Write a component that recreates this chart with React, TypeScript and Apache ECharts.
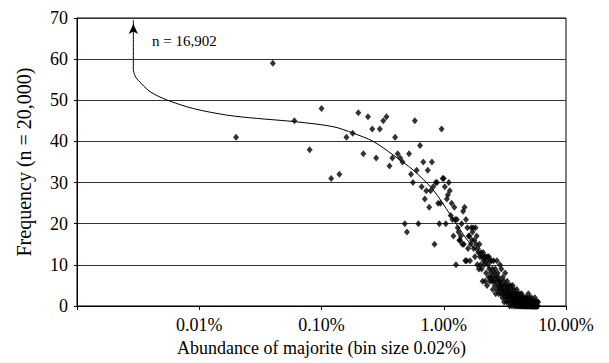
import React, { useEffect, useRef } from "react";
import * as echarts from "echarts";

// Abundance of majorite (%) and frequency per 0.02% bin
const lowBins: [number, number][] = [
  [0.02, 41], [0.04, 59], [0.06, 45], [0.08, 38], [0.10, 48], [0.12, 31], [0.14, 32],
  [0.16, 41], [0.18, 42], [0.20, 47], [0.22, 37], [0.24, 46], [0.26, 43], [0.28, 36],
  [0.30, 43], [0.32, 45], [0.34, 46], [0.36, 34], [0.38, 36], [0.40, 41], [0.42, 37],
  [0.44, 36], [0.46, 35],
];

const midBins: [number, number][] = [
  [0.48, 20], [0.50, 18], [0.52, 37], [0.54, 32], [0.56, 30], [0.58, 45], [0.60, 33],
  [0.62, 20], [0.64, 39], [0.66, 29], [0.68, 35], [0.70, 26], [0.72, 28], [0.74, 33],
  [0.76, 24], [0.78, 28], [0.80, 35], [0.82, 29], [0.84, 15], [0.86, 30], [0.88, 30],
  [0.90, 25], [0.92, 20], [0.94, 25], [0.96, 43], [0.98, 31], [1.00, 31], [1.02, 29],
  [1.04, 20], [1.06, 26], [1.08, 27], [1.10, 30], [1.12, 28], [1.14, 22], [1.16, 25],
  [1.18, 21], [1.20, 17], [1.22, 24], [1.24, 21], [1.26, 10], [1.28, 21], [1.30, 19],
  [1.32, 18], [1.34, 16], [1.36, 16], [1.38, 17], [1.40, 20], [1.42, 15], [1.44, 23],
  [1.46, 15], [1.48, 24], [1.50, 11],
];

const tailBins: [number, number][] = [
  [1.52, 21], [1.54, 11], [1.56, 19], [1.58, 14], [1.60, 17], [1.62, 17], [1.64, 11],
  [1.66, 15], [1.68, 19], [1.70, 16], [1.72, 18], [1.74, 19], [1.76, 14], [1.78, 16],
  [1.80, 12], [1.82, 19], [1.84, 15], [1.86, 17], [1.88, 10], [1.90, 14], [1.92, 13],
  [1.94, 9], [1.96, 15], [1.98, 12], [2.00, 10],
  [2.02, 13], [2.04, 9], [2.06, 12], [2.08, 6], [2.10, 13], [2.12, 11], [2.14, 10],
  [2.16, 12], [2.18, 6], [2.20, 12], [2.22, 8], [2.24, 11], [2.26, 5], [2.28, 12],
  [2.30, 10], [2.32, 7], [2.34, 12], [2.36, 9], [2.38, 6], [2.40, 11],
  [2.42, 7], [2.44, 8], [2.46, 11], [2.48, 6], [2.50, 9], [2.52, 4], [2.54, 7],
  [2.56, 11], [2.58, 6], [2.60, 8], [2.62, 5], [2.64, 9], [2.66, 3], [2.68, 7],
  [2.70, 6], [2.72, 11], [2.74, 4], [2.76, 8], [2.78, 5], [2.80, 7], [2.82, 3],
  [2.84, 6], [2.86, 4], [2.88, 10], [2.90, 5],
  [2.92, 6], [2.94, 3], [2.96, 9], [2.98, 4], [3.00, 5], [3.02, 2], [3.04, 7],
  [3.06, 4], [3.08, 3], [3.10, 6], [3.12, 1], [3.14, 5], [3.16, 3], [3.18, 8],
  [3.20, 2], [3.22, 4], [3.24, 5], [3.26, 1], [3.28, 3], [3.30, 6], [3.32, 2],
  [3.34, 4], [3.36, 3], [3.38, 1], [3.40, 5], [3.42, 2], [3.44, 4], [3.46, 0],
  [3.48, 3], [3.50, 2],
  [3.52, 5], [3.54, 1], [3.56, 3], [3.58, 2], [3.60, 4], [3.62, 0], [3.64, 2],
  [3.66, 5], [3.68, 1], [3.70, 3], [3.72, 2], [3.74, 1], [3.76, 4], [3.78, 0],
  [3.80, 2], [3.82, 3], [3.84, 1], [3.86, 2], [3.88, 0], [3.90, 3], [3.92, 1],
  [3.94, 2], [3.96, 4], [3.98, 0], [4.00, 1], [4.02, 2], [4.04, 1], [4.06, 3],
  [4.08, 0], [4.10, 2], [4.12, 1], [4.14, 2], [4.16, 0], [4.18, 1], [4.20, 3],
  [4.22, 1], [4.24, 0], [4.26, 2], [4.28, 1], [4.30, 0], [4.32, 1], [4.34, 3],
  [4.36, 0], [4.38, 1], [4.40, 2], [4.42, 0], [4.44, 1], [4.46, 1], [4.48, 0],
  [4.50, 2], [4.52, 1], [4.54, 0], [4.56, 1], [4.58, 2], [4.60, 0], [4.62, 1],
  [4.64, 0], [4.66, 1], [4.68, 2], [4.70, 0], [4.72, 1], [4.74, 0], [4.76, 1],
  [4.78, 0], [4.80, 2], [4.82, 1], [4.84, 0], [4.86, 1], [4.88, 0], [4.90, 1],
  [4.92, 3], [4.94, 0], [4.96, 1], [4.98, 0], [5.00, 1], [5.02, 0], [5.04, 2],
  [5.06, 1], [5.08, 0], [5.10, 1], [5.12, 0], [5.14, 1], [5.16, 0], [5.18, 0],
  [5.20, 1], [5.22, 2], [5.24, 0], [5.26, 1], [5.28, 0], [5.30, 0], [5.32, 1],
  [5.34, 0], [5.36, 1], [5.38, 0], [5.40, 0], [5.42, 1], [5.44, 0], [5.46, 1],
  [5.48, 0], [5.50, 0], [5.52, 1], [5.54, 0], [5.56, 2], [5.58, 0], [5.60, 1],
  [5.62, 0], [5.64, 0], [5.66, 1], [5.68, 0], [5.70, 1], [5.72, 0], [5.74, 0],
  [5.76, 1], [5.78, 0], [5.80, 1], [5.82, 0], [5.84, 0], [5.86, 1], [5.88, 0],
  [5.90, 1],
];

// Fitted trend curve (hand-drawn in the original), starting at the arrow tip
const trendAbundance = [0.00289, 0.00289, 0.00298, 0.00316, 0.00396, 0.00542, 0.00893, 0.0168, 0.0295, 0.0607, 0.124, 0.182, 0.265, 0.386, 0.564, 0.82, 1.13, 1.56, 2.12, 2.88, 3.48, 3.9];
const trendFrequency = [69.5, 57.5, 56, 54.9, 52.1, 50.1, 48, 46.4, 45.6, 44.8, 43.6, 42, 40, 36.7, 33, 28.2, 22.2, 16, 11.2, 5.5, 2.3, 1.2];

const xTickValues = [0.01, 0.1, 1, 10];
const xTickLabels = ["0.01%", "0.10%", "1.00%", "10.00%"];
const annotation = "n = 16,902";

const FONT = "'Liberation Serif', 'Times New Roman', serif";

export default function App() {
  const ref = useRef<HTMLDivElement>(null);
  useEffect(() => {
    if (!ref.current) return;
    const chart = echarts.init(ref.current, undefined, { renderer: "svg" });
    const points = [...lowBins, ...midBins, ...tailBins];
    const trend = trendAbundance.map((x, i) =>
      i === 0
        ? { value: [x, trendFrequency[i]], symbol: "arrow", symbolSize: [7, 10], symbolOffset: [0, 4] }
        : { value: [x, trendFrequency[i]] }
    );
    chart.setOption({
      animation: false,
      backgroundColor: "#ffffff",
      grid: {
        left: 77, right: 43, top: 18, bottom: 57,
        show: true, borderColor: "#000", borderWidth: 1, backgroundColor: "transparent",
      },
      xAxis: {
        type: "log",
        logBase: 10,
        min: 0.001,
        max: 10,
        name: "Abundance of majorite (bin size 0.02%)",
        nameLocation: "middle",
        nameGap: 33,
        nameTextStyle: { fontFamily: FONT, fontSize: 18, color: "#000" },
        axisLine: { show: true, lineStyle: { color: "#000", width: 1 } },
        axisTick: { show: true, length: 4, lineStyle: { color: "#000" } },
        minorTick: { show: false },
        splitLine: { show: false },
        axisLabel: {
          fontFamily: FONT, fontSize: 18, color: "#000", margin: 10,
          formatter: (v: number) => {
            const idx = xTickValues.findIndex((t) => Math.abs(Math.log10(v) - Math.log10(t)) < 0.01);
            return idx >= 0 ? xTickLabels[idx] : "";
          },
        },
      },
      yAxis: {
        type: "value",
        min: 0,
        max: 70,
        interval: 10,
        name: "Frequency (n = 20,000)",
        nameLocation: "middle",
        nameGap: 43,
        nameRotate: 90,
        nameTextStyle: { fontFamily: FONT, fontSize: 20, color: "#000" },
        axisLine: { show: true, lineStyle: { color: "#000", width: 1 } },
        axisTick: { show: true, length: 3, lineStyle: { color: "#000" } },
        splitLine: { show: true, lineStyle: { color: "#333", width: 1 } },
        axisLabel: { fontFamily: FONT, fontSize: 18, color: "#000", margin: 9 },
      },
      graphic: [
        {
          type: "text",
          left: 152,
          top: 33,
          style: { text: annotation, fontFamily: FONT, fontSize: 15, fill: "#000" },
        },
      ],
      series: [
        {
          type: "line",
          data: trend,
          smooth: 0.3,
          symbol: "none",
          showSymbol: true,
          itemStyle: { color: "#000" },
          lineStyle: { color: "#000", width: 1 },
          z: 3,
        },
        {
          type: "scatter",
          data: points,
          symbol: "diamond",
          symbolSize: [6, 7],
          itemStyle: { color: "#000" },
          z: 4,
        },
      ],
    });
    return () => chart.dispose();
  }, []);
  return (
    <div
      ref={ref}
      style={{ position: "fixed", left: 0, top: 0, width: 609, height: 363, background: "#fff" }}
    />
  );
}
